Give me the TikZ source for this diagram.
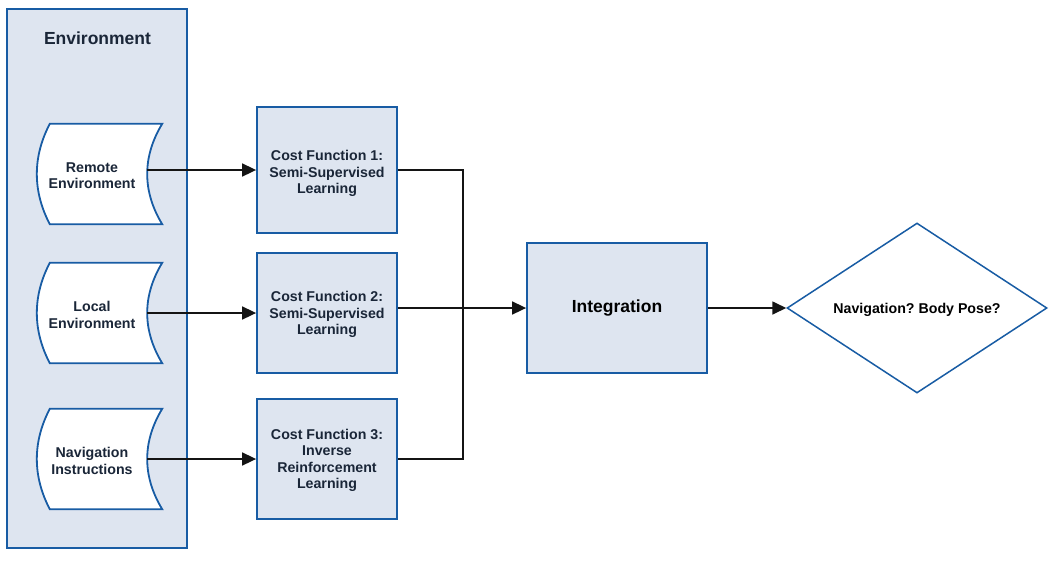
\documentclass[tikz,border=0pt]{standalone}
\usepackage{fontspec}
\setmainfont{Liberation Sans}
\frenchspacing
\usetikzlibrary{arrows.meta,shapes.geometric,calc}
\definecolor{boxfill}{RGB}{222,229,240}
\definecolor{boxline}{RGB}{24,92,164}
\definecolor{txt}{RGB}{26,38,56}
\definecolor{wire}{RGB}{20,20,20}
\tikzset{
  lbl/.style={font=\bfseries\fontsize{14.2}{16.3}\selectfont, text=txt, align=center, inner sep=0pt},
  bigl/.style={font=\bfseries\fontsize{17.5}{20}\selectfont, text=txt, align=center},
  costbox/.style={draw=boxline, line width=1.8pt, fill=boxfill, minimum width=140pt, inner sep=0pt},
  datashape/.style={minimum width=125pt, minimum height=100pt, inner sep=0pt},
  shapeline/.style={draw=boxline, line width=1.8pt, fill=white},
  wirel/.style={draw=wire, line width=1.7pt},
  arr/.style={wirel, -{Triangle[length=14pt,width=13pt]}},
}
\newcommand{\datapath}[1]{%
  \path[shapeline] ($(#1.north west)+(13,0)$) -- ($(#1.north east)$)
    .. controls ($(#1.north east)+(-20,33)$) and ($(#1.south east)+(-20,-33)$) .. ($(#1.south east)$)
    -- ($(#1.south west)+(13,0)$)
    .. controls ($(#1.south west)+(-4.3,-33)$) and ($(#1.north west)+(-4.3,33)$) .. cycle;}
\begin{document}
\begin{tikzpicture}[x=1pt,y=-1pt]
\useasboundingbox (0,0) rectangle (1062,560);
% environment container
\node[draw=boxline, line width=1.8pt, fill=boxfill, minimum width=180pt, minimum height=539pt, inner sep=0pt] (env) at (97,278.5) {};
\node[bigl] (envt) at (97.5,38) {Environment};
% data shapes
\node[datashape] (rem) at (99.5,174) {};
\datapath{rem}
\node[lbl] (remt) at ($(rem)+(-7.5,2)$) {Remote\\Environment};
\node[datashape] (loc) at (99.5,313) {};
\datapath{loc}
\node[lbl] (loct) at ($(loc)+(-7.5,2)$) {Local\\Environment};
\node[datashape] (nav) at (99.5,459) {};
\datapath{nav}
\node[lbl] (navt) at ($(nav)+(-7.5,2)$) {Navigation\\Instructions};
% cost boxes
\node[costbox, minimum height=126pt] (cf1) at (327,170) {};
\node[lbl] (cf1t) at ($(cf1)+(0,3.5)$) {Cost Function 1:\\Semi-Supervised\\Learning};
\node[costbox, minimum height=120pt] (cf2) at (327,313) {};
\node[lbl] (cf2t) at ($(cf2)+(0,1.5)$) {Cost Function 2:\\Semi-Supervised\\Learning};
\node[costbox, minimum height=120pt] (cf3) at (327,459) {};
\node[lbl] (cf3t) at ($(cf3)+(0,1.5)$) {Cost Function 3:\\Inverse\\Reinforcement\\Learning};
\coordinate (remx) at ($(rem.east)+(-15,0)$);
\coordinate (remo) at (remx |- cf1);
\coordinate (loco) at ($(loc.east)+(-15,0)$);
\coordinate (navo) at ($(nav.east)+(-15,0)$);
% integration
\node[draw=boxline, line width=1.8pt, fill=boxfill, minimum width=180pt, minimum height=130pt, inner sep=0pt, font=\bfseries\fontsize{17.5}{20}\selectfont, text=black] (int) at (617,308) {Integration};
% decision
\node[draw=boxline, line width=1.5pt, fill=white, diamond, aspect=1.53, minimum width=260pt, minimum height=170pt, inner sep=0pt] (dec) at (917,308) {};
\node[lbl, text=black] (dect) at ($(dec)+(0,1.5)$) {Navigation? Body Pose?};
% connectors
\draw[arr] (remo) -- (cf1.west |- remo);
\draw[arr] (loco) -- (cf2.west |- loco);
\draw[arr] (navo) -- (cf3.west |- navo);
\draw[wirel] (cf1.east |- remo) -- ++(65,0) |- (cf3.east |- navo);
\draw[arr] (cf2.east |- int.west) -- (int.west);
\draw[arr] (int.east) -- (dec.west);
\end{tikzpicture}
\end{document}
